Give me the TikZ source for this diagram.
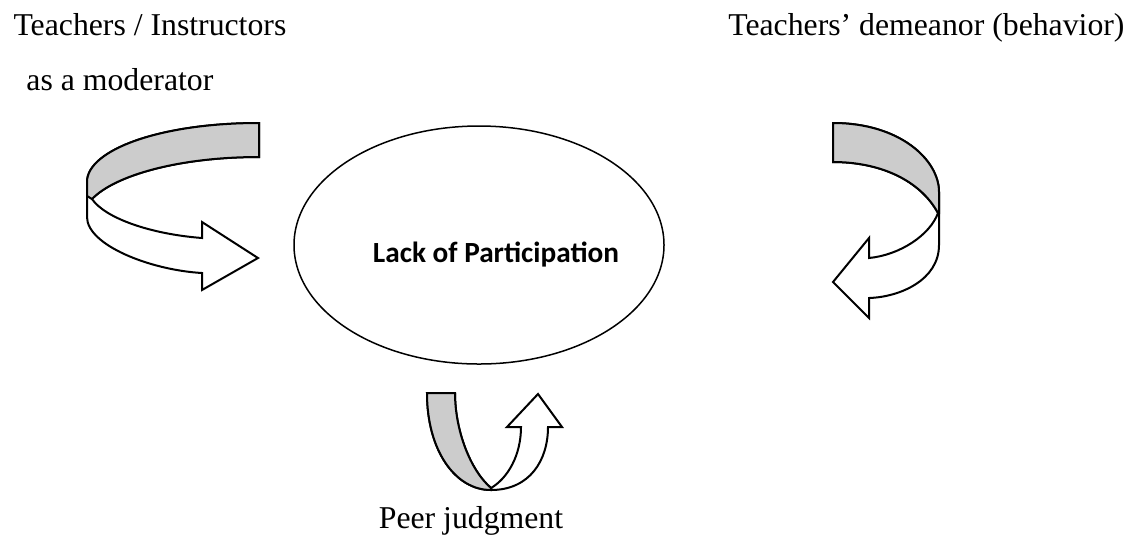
\documentclass[tikz,border=0pt]{standalone}
\usepackage{fontspec}
\setmainfont{Liberation Serif}
\newfontfamily\calibri{Carlito}
\usepackage{tikz}
\usetikzlibrary{shapes,positioning,calc}

\begin{document}
\begin{tikzpicture}[x=0.4pt, y=-0.4pt,
    band/.style={draw, line width=0.8pt, fill=white, line join=miter},
    back/.style={draw, line width=0.8pt, fill=black!20},
    label/.style={font=\fontsize{12.7}{15}\selectfont, inner sep=0pt}]
    \useasboundingbox (0,0) rectangle (1133,536);

    % Centre ellipse
    \node[draw, ellipse, line width=0.6pt, minimum width=148pt, minimum height=95.2pt] (lack) at (479,245) {};
    \node[font=\calibri\bfseries\fontsize{11.7}{14}\selectfont, inner sep=0pt, anchor=base]
        (lacktext) at (496,262) {Lack of Participation};

    % Labels
    \node[label, anchor=base west] (teach) at (13,35) {Teachers / Instructors};
    \node[label, anchor=base west] (moder) at (26,90) {as a moderator};
    \node[label, anchor=base east] (demean) at (1125,35) {Teachers' demeanor (behavior)};
    \node[label, anchor=base] (peer) at (471,528) {Peer judgment};

    % Left curved arrow
    \draw[band] (259,123) .. controls (160,123) and (87,150) .. (87,182) -- (87,217)
        .. controls (87,245) and (150,270) .. (202,273) -- (202,290) -- (258,258) -- (202,222) -- (202,238)
        .. controls (150,234) and (105,218) .. (92,199)
        .. controls (115,175) and (180,157) .. (259,157) -- cycle;
    \draw[back] (259,123) .. controls (160,123) and (87,150) .. (87,182) -- (87,196) -- (92,199)
        .. controls (115,175) and (180,157) .. (259,157) -- cycle;

    % Right curved arrow
    \draw[band] (833,123) .. controls (900,123) and (939,160) .. (939,192) -- (939,245)
        .. controls (939,280) and (900,297) .. (869,298) -- (869,318) -- (833,282) -- (869,238) -- (869,258)
        .. controls (900,255) and (930,235) .. (938,213)
        .. controls (920,180) and (880,162) .. (833,162) -- cycle;
    \draw[back] (833,123) .. controls (900,123) and (939,160) .. (939,192) -- (939,213) -- (938,213)
        .. controls (920,180) and (880,162) .. (833,162) -- cycle;

    % Bottom curved arrow
    \draw[band] (427,393) .. controls (427,450) and (455,490) .. (491,490)
        .. controls (530,490) and (548,460) .. (548,427) -- (562,427) -- (538,394) -- (507,427) -- (521,427)
        .. controls (521,455) and (508,478) .. (491,488)
        .. controls (470,470) and (455,430) .. (455,393) -- cycle;
    \draw[back] (427,393) .. controls (427,450) and (455,490) .. (491,490) -- (491,488)
        .. controls (470,470) and (455,430) .. (455,393) -- cycle;
\end{tikzpicture}
\end{document}
